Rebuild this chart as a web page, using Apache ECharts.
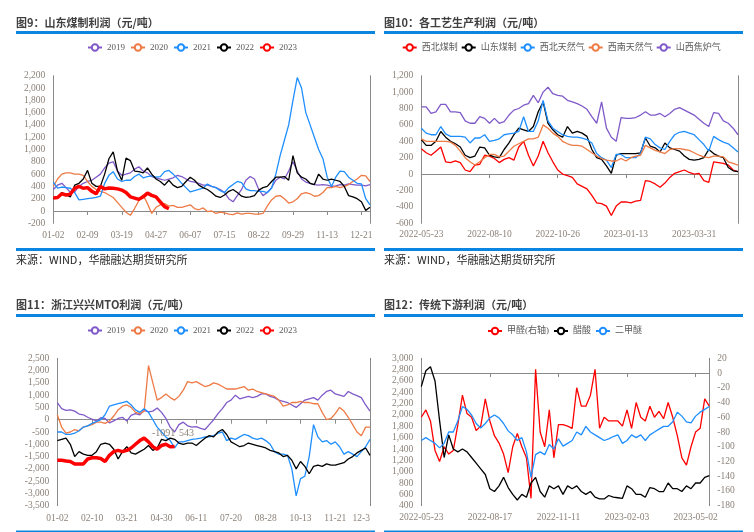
<!DOCTYPE html>
<html><head><meta charset="utf-8">
<script src="https://cdn.jsdelivr.net/npm/echarts@6/dist/echarts.min.js"></script>
<style>html,body{margin:0;padding:0;background:#fff}#c{width:754px;height:532px}</style>
</head><body><div id="c"></div>
<script>
// ---------- Panel 1: 山东煤制利润 ----------
const ticks1 = ['01-02','02-09','03-19','04-27','06-07','07-15','08-22','09-29','11-13','12-21'];
const p1_2019 = [350,420,450,380,300,310,400,450,480,500,550,600,700,780,800,650,580,600,620,680,720,650,620,560,540,520,500,520,540,580,560,520,480,470,450,420,420,400,380,350,300,200,150,250,350,500,560,520,350,250,300,380,500,550,520,650,800,650,520,470,450,430,420,430,420,400,410,430,420,440,430,420,420,410,430];
const p1_2020 = [400,520,600,620,620,600,600,580,480,400,350,320,300,260,220,140,60,-20,-70,40,170,260,120,-40,60,100,120,80,90,60,60,80,100,40,20,50,-10,0,-40,-20,-30,-50,-60,-30,-50,-40,-40,-50,-50,-40,80,180,240,250,200,130,150,200,280,300,280,240,250,300,380,380,400,380,400,430,480,520,580,570,480];
const p1_2021 = [470,370,390,380,370,300,180,190,200,210,220,240,450,580,640,520,480,500,500,560,600,540,560,570,550,560,640,660,600,530,450,380,310,330,350,370,440,400,380,330,300,380,430,480,460,360,330,330,320,320,300,370,600,900,1150,1400,1800,2170,2000,1600,1400,1200,1000,850,550,400,550,650,640,550,500,450,440,200,100];
const p1_2022 = [200,230,300,260,230,420,450,520,660,450,400,400,600,850,960,650,500,860,820,650,640,620,700,600,520,480,420,500,420,380,400,480,550,500,420,380,350,300,240,220,260,320,350,300,240,220,230,250,340,380,400,480,550,550,560,500,900,620,550,520,450,430,600,520,500,520,500,480,400,250,230,200,150,10,60];
const p1_2023 = [210,220,280,260,275,370,400,370,380,320,280,400,360,375,370,360,340,300,230,210,190,230,290,255,230,150,70,36];

// ---------- Panel 2: 各工艺生产利润 ----------
const ticks2 = ['2022-05-23','2022-08-10','2022-10-26','2023-01-13','2023-03-31'];
const p2_xbmz = [310,260,230,280,330,150,140,160,140,50,30,110,120,230,220,190,140,180,200,170,330,400,230,100,220,400,260,150,50,0,-20,-40,-120,-150,-180,-260,-350,-360,-390,-505,-390,-340,-340,-350,-330,-320,-80,-90,-120,-160,-110,-40,10,30,50,20,0,10,-80,-100,150,140,130,110,50,30];
const p2_sdmz = [420,350,350,400,520,450,400,370,330,230,200,220,330,320,230,210,200,300,380,480,560,540,520,580,760,880,620,540,480,450,580,500,520,500,460,300,200,180,100,10,230,250,250,250,250,260,440,340,320,270,380,320,300,280,220,180,170,180,200,300,250,220,200,80,40,30];
const p2_xbtrq = [560,500,480,480,580,490,460,460,460,450,380,440,440,480,400,410,430,480,490,500,520,700,520,520,650,900,650,560,520,480,460,450,450,440,420,380,250,200,170,80,240,240,200,200,200,250,450,430,360,320,300,400,480,510,520,500,480,420,360,280,460,420,390,370,320,270];
const p2_xntrq = [430,400,400,400,400,400,390,350,280,200,150,110,150,200,240,240,210,220,280,340,370,400,430,430,450,600,560,500,460,400,370,350,350,340,300,260,220,190,170,160,160,190,160,200,220,230,350,320,290,270,250,300,310,310,300,290,260,230,210,200,220,220,210,150,130,110];
const p2_sxjlq = [820,820,740,760,850,850,760,760,750,650,620,620,700,680,620,680,620,640,720,780,800,840,860,960,870,1000,1060,980,960,950,900,880,860,830,790,700,620,880,560,450,400,690,680,680,690,720,760,720,720,740,700,740,790,810,780,750,720,670,620,580,750,740,650,620,560,480];

// ---------- Panel 3: 浙江兴兴MTO利润 ----------
const ticks3 = ['01-02','02-10','03-21','04-30','06-11','07-20','08-28','10-13','11-21','12-3'];
const p3_2019 = [700,450,380,400,350,230,200,100,20,-50,80,50,-130,-50,50,100,-50,180,250,200,380,320,350,480,300,50,-300,-500,-200,-100,-250,-300,-280,-350,-400,-200,0,250,450,700,800,1000,850,900,950,900,950,1050,1050,950,900,800,750,700,600,500,650,800,850,900,800,1000,1150,1200,1050,1000,950,1150,1050,980,900,600,350];
const p3_2020 = [200,-300,-550,-500,-400,-450,-300,-250,-200,-100,-100,-150,-50,150,400,550,600,500,300,250,350,2200,1500,800,900,1050,900,800,950,1200,1550,1500,1550,1450,1350,1400,1500,1450,1350,1250,1250,1250,1300,1350,1200,1250,1150,1100,1050,1000,950,800,550,600,700,700,750,700,700,650,650,300,0,50,250,500,350,100,-200,-500,-650,-300,-300];
const p3_2021 = [-500,-500,-600,-600,-550,-450,-300,-250,-150,-80,0,200,550,600,650,700,750,600,400,300,450,300,0,-300,-500,-700,-850,-1150,-900,-900,-850,-800,-780,-750,-700,-700,-650,-550,-500,-850,-750,-800,-700,-600,-650,-750,-800,-750,-850,-1000,-1300,-1400,-1400,-1450,-2000,-3100,-2400,-2300,-1500,-200,-700,-900,-850,-1000,-900,-1100,-1400,-1300,-1400,-1500,-1300,-1100,-800];
const p3_2022 = [-850,-800,-750,-1000,-1500,-1300,-1400,-1450,-1450,-1300,-1000,-950,-1000,-1200,-1600,-1300,-1100,-1350,-1400,-1300,-1200,-1050,-1250,-1150,-800,-850,-750,-800,-950,-1000,-950,-950,-1050,-900,-750,-650,-700,-500,-400,-600,-900,-1000,-1100,-1050,-950,-1000,-1050,-1100,-1150,-1250,-1300,-1350,-1500,-1450,-1650,-2000,-1700,-1900,-2200,-1900,-1850,-1900,-1800,-1850,-1850,-1800,-1750,-1600,-1500,-1350,-1250,-1150,-1450];
const p3_2023 = [-1650,-1650,-1680,-1700,-1800,-1800,-1800,-1600,-1550,-1550,-1580,-1700,-1450,-1300,-1250,-1300,-1250,-1150,-1000,-850,-750,-900,-1100,-1200,-1050,-1000,-1100,-1091];
const p3_endLabels = ['-1091', '543'];

// ---------- Panel 4: 传统下游利润 ----------
const ticks4 = ['2022-05-23','2022-08-17','2022-11-11','2023-02-03','2023-05-02'];
const p4_jq = [-60,-50,-65,-105,-120,-100,-110,-105,-70,-30,-55,-60,-78,-72,-35,-65,-85,-95,-110,-135,-100,-82,-100,-115,-170,5,-80,-100,-50,-115,-70,-70,-72,-75,-20,-45,-45,-30,5,-75,-60,-65,-65,-65,-72,-50,-75,-40,-60,-65,-45,-60,-52,-62,-40,-60,-85,-115,-125,-100,-80,-75,-35,-45];
const p4_cs = [2500,2780,2850,2600,1900,1250,1650,1400,1350,1400,1350,1250,1150,1050,950,700,650,750,900,720,600,500,600,550,800,900,650,550,750,700,750,600,750,700,750,650,600,650,550,520,520,580,550,540,530,750,700,600,600,550,720,700,650,650,800,700,700,650,750,700,800,800,900,930];
const p4_ejm = [1550,1600,1550,1500,1420,1500,1700,1700,1900,2150,2100,2000,1850,1770,1850,1950,2000,1950,1850,1720,1650,1550,1600,1350,900,1300,1350,1300,1480,1400,1580,1450,1500,1550,1700,1650,1800,1700,1650,1600,1550,1580,1620,1650,1500,1550,1650,1600,1650,1550,1650,1700,1750,1800,1800,1880,2050,1980,1880,1860,1980,2050,2100,2150];

// ---------- helpers ----------
const C = {purple:'#7f5ac8', orange:'#ee7a45', blue:'#1f8fff', black:'#000000', red:'#ff0000'};
const AX = '#8a8a8a';
const BAR = '#0a86e0';
const LBL = {fontFamily:"'Liberation Serif', serif", fontSize:9.5, color:'#8c8279'};
function cats(n, ticks, k){ return Array.from({length:n}, (_, i) => (i % k === 0 && ticks[i / k] !== undefined) ? ticks[i / k] : String(i)); }
function fmt(v){ return Number(v).toLocaleString('en-US'); }
function xZero(g, data, k, extra){ return Object.assign({type:'category', gridIndex:g, data, boundaryGap:false, position:'bottom',
  axisLine:{show:true, onZero:true, lineStyle:{color:AX, width:1}}, axisTick:{show:true, interval:k-1, length:4, lineStyle:{color:AX}},
  axisLabel:{show:false}, splitLine:{show:false}}, extra || {}); }
function xLab(g, data, k, margin){ return {type:'category', gridIndex:g, data, boundaryGap:false, position:'bottom',
  axisLine:{show:false, onZero:false}, axisTick:{show:false}, axisLabel:Object.assign({interval:k-1, margin, alignMaxLabel: g===2 ? 'right' : null}, LBL), splitLine:{show:false}}; }
function yLeft(g, min, max, interval){ return {type:'value', gridIndex:g, position:'left', min, max, interval,
  axisLine:{show:true, lineStyle:{color:AX}}, axisTick:{show:false}, splitLine:{show:false},
  axisLabel:Object.assign({margin:8, formatter:fmt}, LBL)}; }
function yRightLine(g, min, max, interval){ return {type:'value', gridIndex:g, position:'right', min, max, interval,
  axisLine:{show:true, lineStyle:{color:AX}}, axisTick:{show:false}, splitLine:{show:false}, axisLabel:{show:false}}; }
function line(name, data, color, xi, yi, width, extra){ return Object.assign({type:'line', name, data, xAxisIndex:xi, yAxisIndex:yi,
  symbol:'emptyCircle', symbolSize:6, showSymbol:false, color, itemStyle:{color},
  lineStyle:{color, width: width || 1.3}, emphasis:{disabled:true}, animation:false}, extra || {}); }
function withEndLabel(arr){ return arr.map((v, i) => i === arr.length - 1 ? {value:v, label:Object.assign({show:true, position:'top', distance:4, formatter:'{c}'}, LBL, {fontSize:10})} : v); }

const K1 = 8, K2 = 14, K3 = 8, K4 = 15;
const c1 = cats(p1_2019.length, ticks1, K1);
const c2 = cats(p2_xbmz.length, ticks2, K2);
const c3 = cats(p3_2019.length, ticks3, K3);
const c4 = cats(p4_cs.length, ticks4, K4);

const titleStyle = {fontSize:11, fontWeight:'bold', color:'#404040', fontFamily:"'Noto Sans CJK SC', sans-serif", lineHeight:15};
const srcStyle = {fontSize:11, fontWeight:'normal', color:'#262626', fontFamily:"'Noto Sans CJK SC', sans-serif", lineHeight:15};
const legText = {fontSize:9, color:'#595959', fontFamily:"'Liberation Serif', 'Noto Sans CJK SC', serif"};
const yearNames = ['2019','2020','2021','2022','2023'];
const p2Names = ['西北煤制','山东煤制','西北天然气','西南天然气','山西焦炉气'];
const p4Names = ['甲醛(右轴)','醋酸','二甲醚'];

const last3 = p3_2023.length - 1;

const option = {
  animation:false,
  backgroundColor:'#ffffff',
  title:[
    {text:'图9：山东煤制利润（元/吨）', left:16, top:15, padding:0, textStyle:titleStyle},
    {text:'图10：各工艺生产利润（元/吨）', left:384, top:15, padding:0, textStyle:titleStyle},
    {text:'图11：浙江兴兴MTO利润（元/吨）', left:16, top:297.5, padding:0, textStyle:titleStyle},
    {text:'图12：传统下游利润（元/吨）', left:384, top:297.5, padding:0, textStyle:titleStyle},
    {text:'来源：WIND，华融融达期货研究所', left:16, top:252, padding:0, textStyle:srcStyle},
    {text:'来源：WIND，华融融达期货研究所', left:384, top:252, padding:0, textStyle:srcStyle}
  ],
  graphic:[
    {type:'rect', shape:{x:16, y:31, width:359, height:3}, style:{fill:BAR}, silent:true},
    {type:'rect', shape:{x:384, y:31, width:359, height:3}, style:{fill:BAR}, silent:true},
    {type:'rect', shape:{x:16, y:248, width:359, height:3}, style:{fill:BAR}, silent:true},
    {type:'rect', shape:{x:384, y:248, width:359, height:3}, style:{fill:BAR}, silent:true},
    {type:'rect', shape:{x:16, y:314, width:359, height:3}, style:{fill:BAR}, silent:true},
    {type:'rect', shape:{x:384, y:314, width:359, height:3}, style:{fill:BAR}, silent:true},
    {type:'rect', shape:{x:16, y:530.5, width:359, height:3}, style:{fill:BAR}, silent:true},
    {type:'rect', shape:{x:384, y:530.5, width:359, height:3}, style:{fill:BAR}, silent:true}
  ],
  legend:[
    {data:yearNames, left:87, top:43, itemWidth:14, itemHeight:8, itemGap:5, padding:0, textStyle:legText},
    {data:p2Names, left:401.7, top:43, itemWidth:14, itemHeight:8, itemGap:3, padding:0, textStyle:legText},
    {data:yearNames, left:87, top:326, itemWidth:14, itemHeight:8, itemGap:5, padding:0, textStyle:legText},
    {data:p4Names, left:487, top:326.5, itemWidth:14, itemHeight:8, itemGap:4, padding:0, textStyle:legText}
  ],
  grid:[
    {left:53.3, top:75.7, width:316.7, height:147.6, outerBoundsMode:'none'},
    {left:421.3, top:75.7, width:316.7, height:147.6, outerBoundsMode:'none'},
    {left:57.3, top:358.3, width:312.7, height:147.4, outerBoundsMode:'none'},
    {left:421.3, top:358.3, width:288, height:147.4, outerBoundsMode:'none'}
  ],
  xAxis:[
    xZero(0, c1, K1), xLab(0, c1, K1, 7),
    xZero(1, c2, K2), xLab(1, c2, K2, 6.5),
    xZero(2, c3, K3), xLab(2, c3, K3, 8),
    xZero(3, c4, K4, {axisLine:{show:true, onZero:true, onZeroAxisIndex:7, lineStyle:{color:AX, width:1}}}), xLab(3, c4, K4, 7)
  ],
  yAxis:[
    yLeft(0, -200, 2200, 200), yRightLine(0, -200, 2200, 200),
    yLeft(1, -600, 1200, 200), yRightLine(1, -600, 1200, 200),
    yLeft(2, -3500, 2500, 500), yRightLine(2, -3500, 2500, 500),
    yLeft(3, 400, 3000, 200),
    {type:'value', gridIndex:3, position:'right', min:-180, max:20, interval:20,
     axisLine:{show:true, lineStyle:{color:AX}}, axisTick:{show:false}, splitLine:{show:false},
     axisLabel:Object.assign({margin:8}, LBL)}
  ],
  series:[
    line('2019', p1_2019, C.purple, 0, 0),
    line('2020', p1_2020, C.orange, 0, 0),
    line('2021', p1_2021, C.blue, 0, 0),
    line('2022', p1_2022, C.black, 0, 0),
    line('2023', withEndLabel(p1_2023), C.red, 0, 0, 3.5),

    line('西北煤制', p2_xbmz, C.red, 2, 2),
    line('山东煤制', p2_sdmz, C.black, 2, 2),
    line('西北天然气', p2_xbtrq, C.blue, 2, 2),
    line('西南天然气', p2_xntrq, C.orange, 2, 2),
    line('山西焦炉气', p2_sxjlq, C.purple, 2, 2),

    line('2019', p3_2019, C.purple, 4, 4),
    line('2020', p3_2020, C.orange, 4, 4),
    line('2021', p3_2021, C.blue, 4, 4),
    line('2022', p3_2022, C.black, 4, 4),
    line('2023', p3_2023, C.red, 4, 4, 3.5, {markPoint:{symbol:'circle', symbolSize:0, silent:true, animation:false,
      data:[
        {coord:[last3, p3_2023[last3]], value:p3_endLabels[0], label:Object.assign({show:true, position:'inside', offset:[-11,-13], formatter:p3_endLabels[0]}, LBL, {fontSize:10})},
        {coord:[last3, p3_2023[last3]], value:p3_endLabels[1], label:Object.assign({show:true, position:'inside', offset:[12,-13], formatter:p3_endLabels[1]}, LBL, {fontSize:10})}
      ]}}),

    line('甲醛(右轴)', p4_jq, C.red, 6, 7),
    line('醋酸', p4_cs, C.black, 6, 6),
    line('二甲醚', p4_ejm, C.blue, 6, 6)
  ]
};
const chart = echarts.init(document.getElementById('c'), null, {renderer:'canvas'});
chart.setOption(option);
</script>
</body></html>
